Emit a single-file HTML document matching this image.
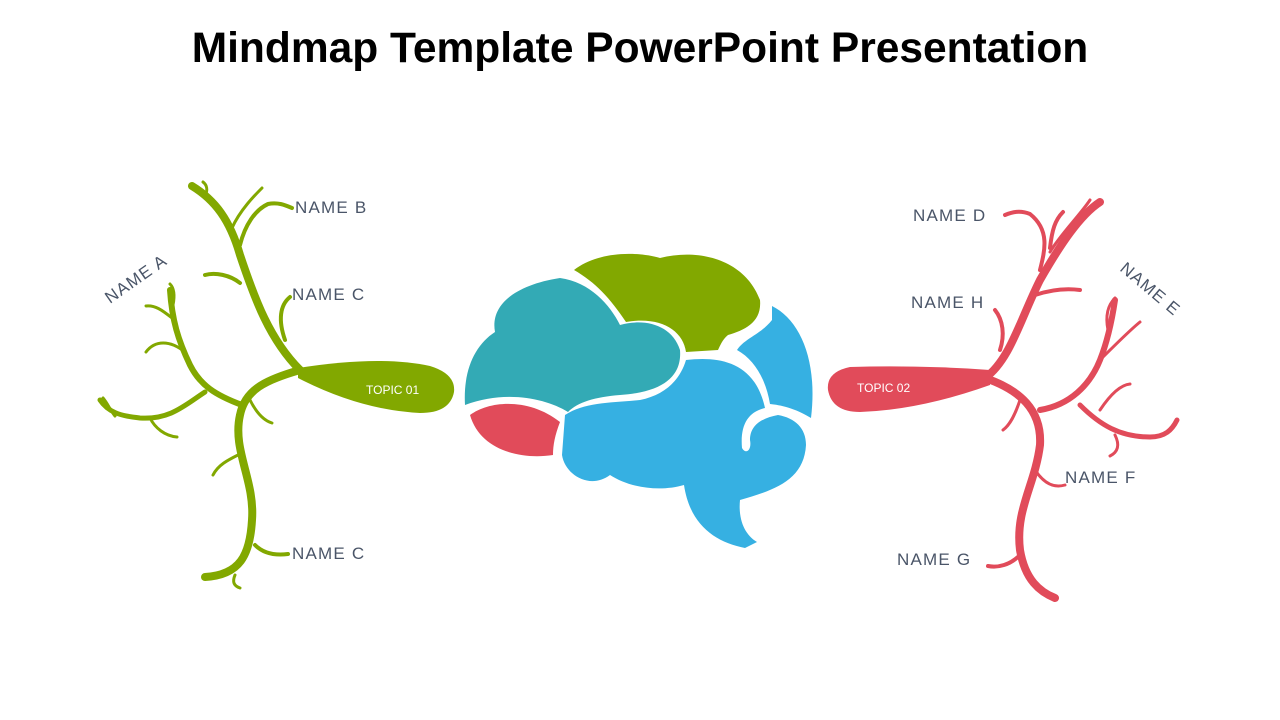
<!DOCTYPE html>
<html><head><meta charset="utf-8"><style>
body{margin:0;width:1280px;height:720px;background:#fff;overflow:hidden;font-family:"Liberation Sans",sans-serif}
h1{position:absolute;top:25px;left:0;width:1280px;text-align:center;margin:0;font-size:42.5px;font-weight:bold;color:#000}
svg{position:absolute;left:0;top:0}
</style></head><body>
<h1>Mindmap Template PowerPoint Presentation</h1>
<svg width="1280" height="720" viewBox="0 0 1280 720">
<g fill="none" stroke="#82a800" stroke-linecap="round">
<path d="M300,370 C270,340 255,300 240,255 C230,220 215,200 192,186" stroke-width="8"/>
<path d="M300,370 C265,380 245,390 240,415 C232,450 255,480 252,520 C250,555 240,575 205,577" stroke-width="8"/>
<path d="M242,405 C215,395 200,385 190,365 C178,340 172,320 170,290" stroke-width="6"/>
<path d="M205,392 C185,405 170,420 140,418 C120,416 108,412 100,400" stroke-width="5"/>
<path d="M240,245 C245,225 255,210 268,204 C278,202 285,205 292,208" stroke-width="4"/>
<path d="M232,228 C240,210 255,195 262,188" stroke-width="3"/>
<path d="M205,196 C208,190 207,185 203,182" stroke-width="3"/>
<path d="M240,283 C230,275 215,272 205,275" stroke-width="4"/>
<path d="M285,340 C278,320 280,305 290,297" stroke-width="4"/>
<path d="M250,400 C255,410 262,420 272,423" stroke-width="3"/>
<path d="M185,352 C170,340 155,340 146,352" stroke-width="3"/>
<path d="M172,318 C162,310 155,305 146,306" stroke-width="3"/>
<path d="M173,305 C175,295 174,288 170,284" stroke-width="3"/>
<path d="M150,418 C155,428 165,436 177,437" stroke-width="3"/>
<path d="M115,416 C110,410 108,404 103,398" stroke-width="3"/>
<path d="M238,455 C228,460 218,465 213,475" stroke-width="3"/>
<path d="M255,545 C262,552 272,556 288,554" stroke-width="4"/>
<path d="M235,575 C232,582 234,586 240,588" stroke-width="3"/>
</g>
<path d="M298,368 Q380,355 430,366 Q456,374 454,392 Q450,413 420,413 Q360,410 298,378 Z" fill="#82a800"/>
<g fill="none" stroke="#e14b5a" stroke-linecap="round">
<path d="M985,378 C1010,360 1020,320 1040,280 C1060,245 1080,215 1100,202" stroke-width="8"/>
<path d="M985,378 C1020,390 1042,410 1040,445 C1035,485 1015,510 1020,550 C1025,580 1040,592 1055,598" stroke-width="8"/>
<path d="M1040,410 C1070,405 1090,385 1100,360 C1108,340 1112,320 1115,300" stroke-width="6"/>
<path d="M1080,405 C1100,425 1120,437 1150,437 C1165,437 1172,430 1177,420" stroke-width="5"/>
<path d="M1050,248 C1052,230 1055,220 1063,212 M1040,270 C1045,250 1050,230 1030,214 C1020,210 1012,212 1005,215" stroke-width="4"/>
<path d="M1050,252 C1060,235 1080,215 1090,200" stroke-width="3"/>
<path d="M1035,295 C1050,290 1065,288 1080,290" stroke-width="4"/>
<path d="M1000,350 C1005,335 1003,320 995,310" stroke-width="4"/>
<path d="M1020,400 C1015,415 1010,425 1003,430" stroke-width="3"/>
<path d="M1100,360 C1115,345 1130,330 1140,322" stroke-width="3"/>
<path d="M1108,330 C1105,315 1108,305 1115,298" stroke-width="3"/>
<path d="M1115,435 C1120,445 1118,452 1110,456" stroke-width="3"/>
<path d="M1100,410 C1110,395 1120,385 1130,384" stroke-width="3"/>
<path d="M1035,470 C1045,485 1055,488 1065,485" stroke-width="3"/>
<path d="M1020,555 C1010,565 998,568 988,566" stroke-width="4"/>
</g>
<path d="M990,370 Q920,365 850,367 Q826,372 828,390 Q832,412 860,412 Q920,410 990,385 Z" fill="#e14b5a"/>
<path d="M465,405 C463,370 475,345 495,332 C490,305 515,285 560,278 C590,282 610,305 620,325 C645,318 672,325 680,350 C682,375 665,392 620,395 C595,397 578,402 568,412 C545,398 505,390 465,405 Z" fill="#33aab5"/>
<path d="M574,270 C600,250 640,252 660,258 C700,248 745,260 760,300 C762,322 745,330 728,335 C722,340 720,346 718,350 L686,352 C683,330 660,316 626,322 C610,298 595,282 574,270 Z" fill="#82a800"/>
<path d="M772,306 C800,320 818,360 811,418 C795,408 780,405 770,404 C766,380 755,360 737,350 C745,338 760,335 772,320 Z" fill="#36b0e2"/>
<path d="M565,415 C585,402 610,403 640,400 C665,395 680,380 686,360 C720,356 755,362 765,408 C748,412 740,425 742,448 C746,455 752,450 750,440 C750,425 762,418 778,415 C795,418 806,428 806,445 C804,480 775,490 740,500 C738,520 745,535 757,542 L745,548 C715,542 690,525 684,485 C660,492 630,488 610,475 C590,490 565,475 562,455 Z" fill="#36b0e2"/>
<path d="M470,415 C490,400 530,398 560,422 C555,435 553,445 553,455 C520,460 480,450 470,415 Z" fill="#e14b5a"/>
<g font-family="Liberation Sans,sans-serif" fill="#4a5568" font-size="17" letter-spacing="1.2">
<text x="295" y="213">NAME B</text>
<text x="292" y="300">NAME C</text>
<text x="292" y="559">NAME C</text>
<text x="110" y="304" transform="rotate(-35 110 304)">NAME A</text>
<text x="913" y="221">NAME D</text>
<text x="911" y="308">NAME H</text>
<text x="1065" y="483">NAME F</text>
<text x="897" y="565">NAME G</text>
<text x="1119" y="270" transform="rotate(40 1119 270)">NAME E</text>
</g>
<text x="366" y="394" fill="#fff" font-size="12" font-family="Liberation Sans,sans-serif">TOPIC 01</text>
<text x="857" y="392" fill="#fff" font-size="12" font-family="Liberation Sans,sans-serif">TOPIC 02</text>
</svg>
</body></html>
